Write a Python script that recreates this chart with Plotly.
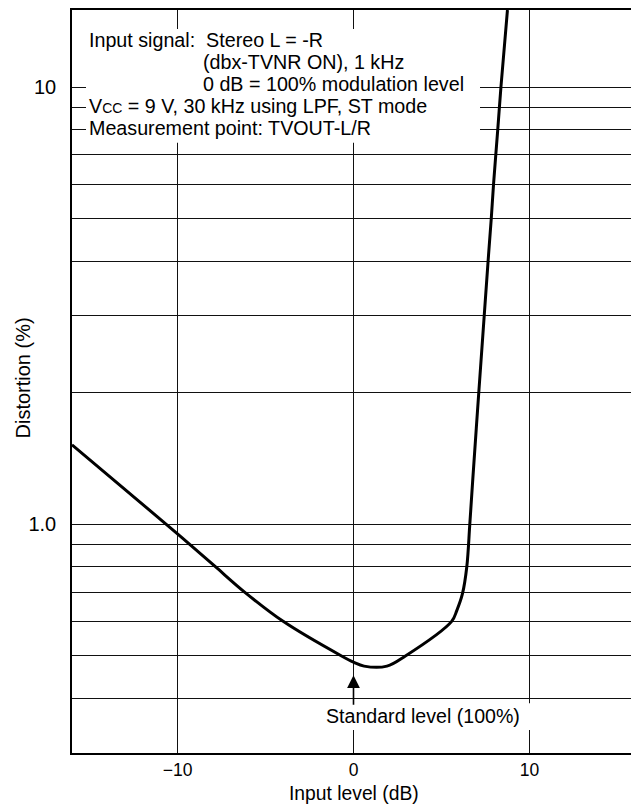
import math
import plotly.graph_objects as go

# ---- data ----
input_level_db = [-16, -10.64, -9.31, -7.85, -6.19, -4.0, -0.68, 0, 0.6, 1.9, 2.95,
                  5.58, 5.87, 6.19, 6.44, 6.61, 6.77, 7.12, 7.43, 7.65, 7.83, 7.96,
                  8.2, 8.38, 8.75]
distortion_pct = [1.52, 1.0, 0.9, 0.8, 0.7, 0.6, 0.5, 0.484, 0.474, 0.474, 0.5,
                  0.6, 0.635, 0.693, 0.8, 1.0, 1.25, 2.0, 3.0, 4.0, 5.0, 6.0,
                  8.0, 10.0, 15.0]

x_tickvals = [-10, 0, 10]
x_ticktext = ["\u221210", "0", "10"]
y_gridvals = [0.4, 0.5, 0.6, 0.7, 0.8, 0.9, 1, 2, 3, 4, 5, 6, 7, 8, 9, 10]
y_labels = {1: "1.0", 10: "10"}
x_range = [-16, 16]
y_range = [0.3, 15]
standard_level_db = 0

FONT = "Liberation Sans, Arial, sans-serif"

fig = go.Figure()
fig.add_trace(go.Scatter(
    x=input_level_db, y=distortion_pct, mode="lines",
    line=dict(color="black", width=3, shape="spline", smoothing=1.0),
    hoverinfo="skip", showlegend=False))

# page has an 8px body margin: size the figure so it fits the 639x809 window
OFF = 8
W, H = 639 - OFF, 809 - OFF
L, R, T, B = 72 - OFF, 4, 0, 56
pw, ph = W - L - R, H - T - B

def px(xp):  # page pixel -> paper x
    return (xp - OFF - L) / pw

def py(yp):  # page pixel -> paper y
    return (H - B - (yp - OFF)) / ph

fig.update_layout(
    width=W, height=H,
    margin=dict(l=L, r=R, t=T, b=B, pad=0),
    paper_bgcolor="white", plot_bgcolor="white",
    font=dict(family=FONT, color="black", size=18),
    xaxis=dict(range=x_range, tickvals=x_tickvals, ticktext=x_ticktext,
               showgrid=True, gridcolor="#111", gridwidth=1.3,
               zeroline=False, showline=True, linecolor="black", linewidth=1.5, mirror=True,
               ticks="", ticklabelstandoff=0, tickfont=dict(size=17.5)),
    yaxis=dict(type="log", range=[math.log10(y_range[0]), math.log10(y_range[1])],
               tickvals=y_gridvals, ticktext=[y_labels.get(v, "") for v in y_gridvals],
               showgrid=True, gridcolor="#111", gridwidth=1.3,
               zeroline=False, showline=True, linecolor="black", linewidth=1.5, mirror=True,
               ticks="", ticklabelstandoff=10, tickfont=dict(size=20)),
)

# white boxes behind the notes
fig.add_shape(type="rect", xref="paper", yref="paper",
              x0=px(86), x1=px(480), y0=py(141), y1=py(27),
              fillcolor="white", line=dict(width=0), layer="above")
fig.add_shape(type="rect", xref="paper", yref="paper",
              x0=px(320), x1=px(534), y0=py(730), y1=py(703),
              fillcolor="white", line=dict(width=0), layer="above")

notes = [
    (88, 38, "Input signal:  Stereo L = -R"),
    (202, 60, "(dbx-TVNR ON), 1 kHz"),
    (202, 82, "0 dB = 100% modulation level"),
    (88, 104, "V<span style='font-size:14px'>CC</span> = 9 V, 30 kHz using LPF, ST mode"),
    (88, 126, "Measurement point: TVOUT-L/R"),
]
for xp, yp, t in notes:
    fig.add_annotation(xref="paper", yref="paper", x=px(xp), y=py(yp), text=t,
                       xanchor="left", yanchor="middle", showarrow=False,
                       font=dict(size=19.7), borderpad=0)

fig.add_annotation(xref="paper", yref="paper", x=px(325), y=py(716),
                   text="Standard level (100%)", xanchor="left", yanchor="middle",
                   showarrow=False, font=dict(size=19.6), borderpad=0)

# arrow pointing to standard level
fig.add_annotation(x=standard_level_db, y=math.log10(0.452), xref="x", yref="y",
                   text="", showarrow=True, ax=0, ay=31,
                   arrowhead=2, arrowsize=1.6, arrowwidth=1.6, arrowcolor="black")

# axis titles
fig.add_annotation(xref="paper", yref="paper", x=px(353.5), y=py(794),
                   text="Input level (dB)", showarrow=False, xanchor="center", yanchor="middle",
                   font=dict(size=19.3))
fig.add_annotation(xref="paper", yref="paper", x=px(23.5), y=py(377),
                   text="Distortion (%)", showarrow=False, textangle=-90,
                   xanchor="center", yanchor="middle", font=dict(size=20))

fig.write_html("out.html")
